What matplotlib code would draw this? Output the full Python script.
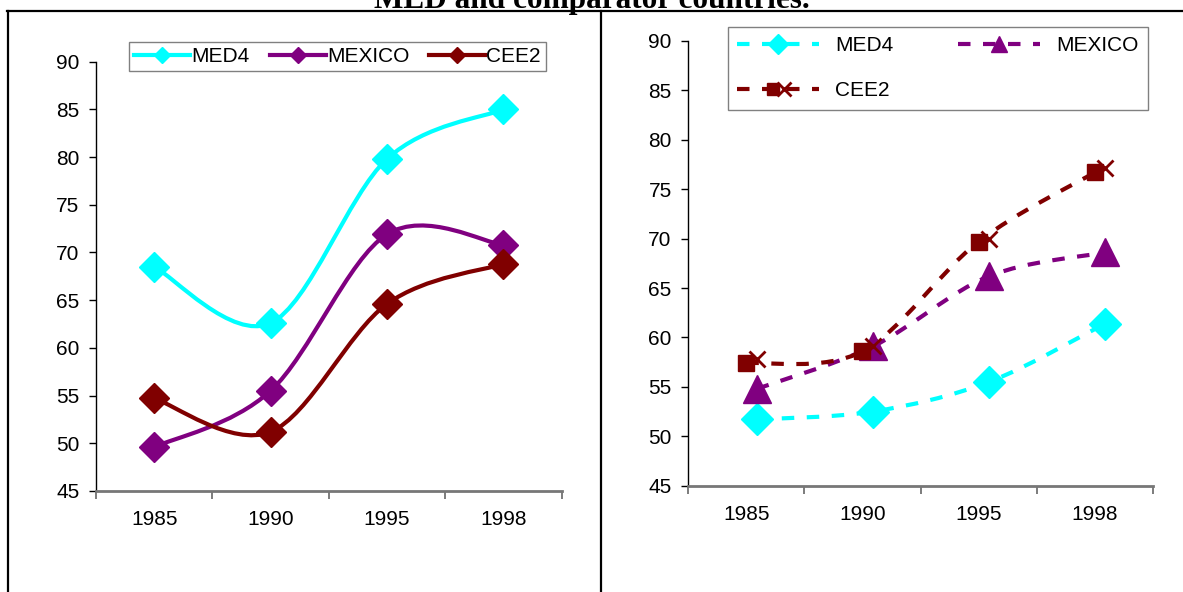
import matplotlib
matplotlib.use("Agg")
import matplotlib.pyplot as plt
from matplotlib.path import Path
from matplotlib.patches import PathPatch
from matplotlib.lines import Line2D
from matplotlib.legend_handler import HandlerTuple, HandlerLine2D
import numpy as np

plt.rcParams['font.family'] = ['Liberation Sans', 'DejaVu Sans']

# ---------------- data ----------------
years = ["1985", "1990", "1995", "1998"]

left_med4 = [68.5, 62.6, 79.8, 85.0]
left_mexico = [49.6, 55.5, 71.9, 70.8]
left_cee2 = [54.7, 51.2, 64.6, 68.8]

right_med4 = [51.7, 52.5, 55.5, 61.4]
right_mexico = [54.8, 59.1, 66.2, 68.6]
right_cee2 = [57.4, 58.6, 69.7, 76.7]
right_cee2_x = [57.8, 59.1, 70.0, 77.1]

title = "MED and comparator countries."
yticks = [45, 50, 55, 60, 65, 70, 75, 80, 85, 90]

C_CYAN = "#00FFFF"
C_PURPLE = "#800080"
C_RED = "#800000"
FS = 15


def smooth_path(xs, ys):
    pts = np.column_stack([xs, ys]).astype(float)
    n = len(pts)
    verts = [pts[0]]
    codes = [Path.MOVETO]
    for i in range(n - 1):
        p0 = pts[i - 1] if i > 0 else pts[i]
        p1 = pts[i]
        p2 = pts[i + 1]
        p3 = pts[i + 2] if i + 2 < n else pts[i + 1]
        c1 = p1 + (p2 - p0) / 6.0
        c2 = p2 - (p3 - p1) / 6.0
        verts += [c1, c2, p2]
        codes += [Path.CURVE4] * 3
    return Path(verts, codes)


class ShiftedLineHandler(HandlerLine2D):
    """Legend handler that shifts the marker horizontally (in font-size units)."""
    def __init__(self, shift=0.0, **kw):
        super().__init__(**kw)
        self.shift = shift

    def create_artists(self, legend, orig_handle, xdescent, ydescent, width, height,
                       fontsize, trans):
        return super().create_artists(legend, orig_handle, xdescent - self.shift * fontsize,
                                      ydescent, width, height, fontsize, trans)


fig = plt.figure(figsize=(11.83, 5.92), dpi=100)

# title (partly cut at top, as in the source)
fig.text(0.5, 1 - 8 / 592, title, ha='center', va='baseline',
         fontsize=22.5, fontweight='bold', family='Liberation Serif')

# frame lines
fig.add_artist(Line2D([7 / 1183, 1.0], [1 - 11 / 592, 1 - 11 / 592], color='black', lw=1.6))
fig.add_artist(Line2D([8 / 1183, 8 / 1183], [0, 1 - 11 / 592], color='black', lw=1.6))
fig.add_artist(Line2D([601 / 1183, 601 / 1183], [0, 1 - 11 / 592], color='black', lw=1.6))

ax1 = fig.add_axes([96 / 1183, 1 - 491 / 592, 465.5 / 1183, (491 - 61.7) / 592])
ax2 = fig.add_axes([688.3 / 1183, 1 - 485.7 / 592, 464.4 / 1183, (485.7 - 41) / 592])


def style_axes(ax):
    ax.set_xlim(-0.5, 3.5)
    ax.set_ylim(45, 90)
    ax.set_yticks(yticks)
    ax.set_yticklabels([str(v) for v in yticks])
    ax.set_xticks([-0.5, 0.5, 1.5, 2.5, 3.5])
    ax.set_xticklabels([])
    ax.set_xticks(range(len(years)), minor=True)
    ax.set_xticklabels(years, minor=True)
    ax.tick_params(axis='x', which='minor', length=0, pad=14, labelsize=FS)
    ax.tick_params(axis='x', which='major', length=6, width=1.2, color='#666666', direction='out')
    ax.tick_params(axis='y', length=5, width=1, color='black', direction='out', pad=7, labelsize=FS)
    for s in ['top', 'right']:
        ax.spines[s].set_visible(False)
    ax.spines['left'].set_color('black')
    ax.spines['left'].set_linewidth(1.0)
    ax.spines['bottom'].set_color('#777777')
    ax.spines['bottom'].set_linewidth(2.0)
    ax.patch.set_alpha(0)


style_axes(ax1)
style_axes(ax2)

xs = np.arange(len(years))

# ---------- left panel ----------
handles1 = []
for vals, col, name in [(left_med4, C_CYAN, "MED4"),
                        (left_mexico, C_PURPLE, "MEXICO"),
                        (left_cee2, C_RED, "CEE2")]:
    ax1.add_patch(PathPatch(smooth_path(xs, vals), facecolor='none', edgecolor=col,
                            lw=3.0, capstyle='round', joinstyle='round', zorder=2))
    ax1.plot(xs, vals, linestyle='none', marker='D', ms=15, color=col, mec=col, zorder=3)
    handles1.append(Line2D([], [], color=col, lw=3.0, marker='D', ms=8, mec=col, label=name))

leg1 = ax1.legend(handles=handles1, loc='lower left', ncol=3, mode='expand',
                  bbox_to_anchor=(0.0709, 0.978, 0.8958, 0.08), fontsize=FS,
                  frameon=True, fancybox=False, edgecolor='#808080', framealpha=1,
                  numpoints=1, handlelength=2.7, handletextpad=0.05, columnspacing=0.5,
                  borderpad=0.25, borderaxespad=0)
leg1.get_frame().set_linewidth(1.0)

# ---------- right panel ----------
off = 0.09
dash = (0, (3, 3))
ax2.add_patch(PathPatch(smooth_path(xs + off, right_med4), facecolor='none', edgecolor=C_CYAN,
                        lw=3.0, linestyle=dash, zorder=2))
ax2.plot(xs + off, right_med4, linestyle='none', marker='D', ms=16, color=C_CYAN, zorder=3)

ax2.add_patch(PathPatch(smooth_path(xs + off, right_mexico), facecolor='none', edgecolor=C_PURPLE,
                        lw=3.0, linestyle=dash, zorder=2))
ax2.plot(xs + off, right_mexico, linestyle='none', marker='^', ms=20, color=C_PURPLE, zorder=3)

ax2.add_patch(PathPatch(smooth_path(xs, right_cee2), facecolor='none', edgecolor=C_RED,
                        lw=3.0, linestyle=dash, zorder=2))
ax2.plot(xs, right_cee2, linestyle='none', marker='s', ms=11, color=C_RED, zorder=3)
ax2.plot(xs + off, right_cee2_x, linestyle='none', marker='x', ms=12, mew=2, color=C_RED, zorder=4)

h_med4 = Line2D([], [], color=C_CYAN, lw=3.0, ls=dash, marker='D', ms=10)
h_mex = Line2D([], [], color=C_PURPLE, lw=3.0, ls=dash, marker='^', ms=11)
h_cee_line = Line2D([], [], color=C_RED, lw=3.0, ls=dash)
h_cee_s = Line2D([], [], color=C_RED, lw=0, marker='s', ms=9)
h_cee_x = Line2D([], [], color=C_RED, lw=0, marker='x', ms=10, mew=2)

leg2 = ax2.legend(handles=[h_med4, (h_cee_line, h_cee_s, h_cee_x), h_mex],
                  labels=["MED4", "CEE2", "MEXICO"],
                  handler_map={tuple: HandlerTuple(ndivide=1),
                               h_cee_s: ShiftedLineHandler(shift=-0.22),
                               h_cee_x: ShiftedLineHandler(shift=0.27)},
                  loc='upper left', ncol=2, mode='expand',
                  bbox_to_anchor=(0.0855, 0.845, 0.9045, 0.1865), fontsize=FS,
                  frameon=True, fancybox=False, edgecolor='#808080', framealpha=1,
                  numpoints=1, handlelength=3.9, handletextpad=0.8, columnspacing=1.0,
                  borderpad=0.45, labelspacing=1.25, borderaxespad=0)
leg2.get_frame().set_linewidth(1.0)

fig.savefig("out.png", dpi=100)
